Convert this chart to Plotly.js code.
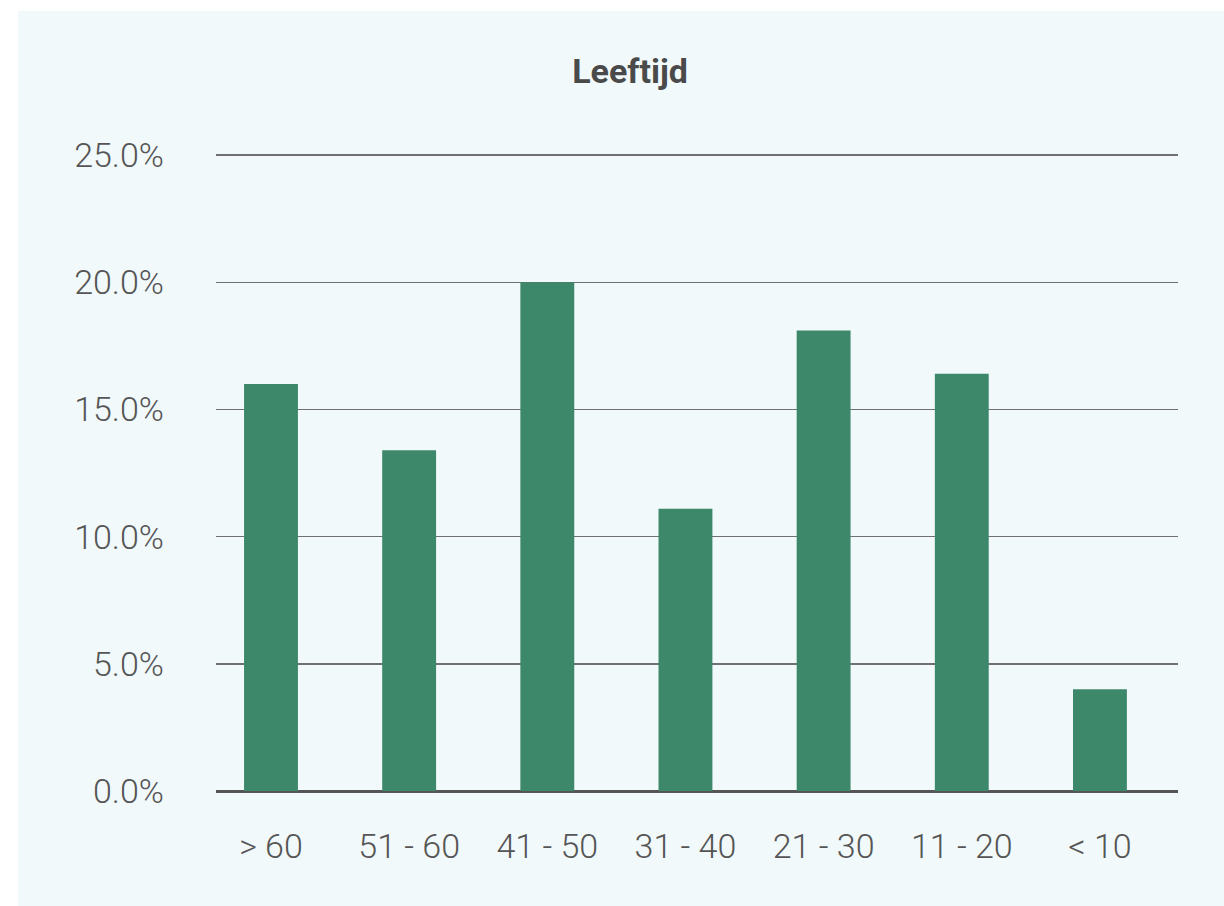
<!DOCTYPE html>
<html>
<head>
<meta charset="utf-8">
<script src="https://cdn.plot.ly/plotly-3.0.1.min.js"></script>
<style>
html,body{margin:0;padding:0;background:#ffffff;}
#chart{position:absolute;left:18px;top:11px;width:1206px;height:895px;}
</style>
</head>
<body>
<div id="chart"></div>
<script>
const categories = ["> 60", "51 - 60", "41 - 50", "31 - 40", "21 - 30", "11 - 20", "< 10"];
const values = [0.160, 0.134, 0.200, 0.111, 0.181, 0.164, 0.040];
const yTickValues = [0, 0.05, 0.10, 0.15, 0.20, 0.25];
const yTickLabels = ["0.0%", "5.0%", "10.0%", "15.0%", "20.0%", "25.0%"];
const chartTitle = "Leeftijd";

const fontFam = "Roboto, 'Liberation Sans', Arial, sans-serif";

const trace = {
  type: "bar",
  x: categories,
  y: values,
  marker: {color: "#3d886a"},
  hoverinfo: "skip"
};

const layout = {
  width: 1206,
  height: 895,
  paper_bgcolor: "#f1f9fb",
  plot_bgcolor: "#f1f9fb",
  margin: {l: 198, r: 46, t: 139, b: 115, pad: 0},
  bargap: 0.61,
  showlegend: false,
  title: {
    text: chartTitle,
    x: 0.5075, xanchor: "center",
    y: 0.933, yanchor: "middle",
    font: {family: fontFam, size: 34, color: "#4a4a4a", weight: 700}
  },
  xaxis: {
    type: "category",
    range: [-0.398, 6.565],
    showgrid: false,
    zeroline: false,
    showline: false,
    ticks: "",
    ticklabelstandoff: 32,
    tickfont: {family: fontFam, size: 34, color: "#555555", weight: 300}
  },
  yaxis: {
    range: [0, 0.252],
    tickvals: yTickValues,
    ticktext: yTickLabels,
    showgrid: true,
    gridcolor: "#707070",
    gridwidth: 1.4,
    zeroline: true,
    zerolinecolor: "#555555",
    zerolinewidth: 3,
    showline: false,
    ticks: "",
    ticklabelstandoff: 51,
    tickfont: {family: fontFam, size: 34, color: "#555555", weight: 300}
  }
};

Plotly.newPlot("chart", [trace], layout, {displayModeBar: false, staticPlot: true});
</script>
</body>
</html>
